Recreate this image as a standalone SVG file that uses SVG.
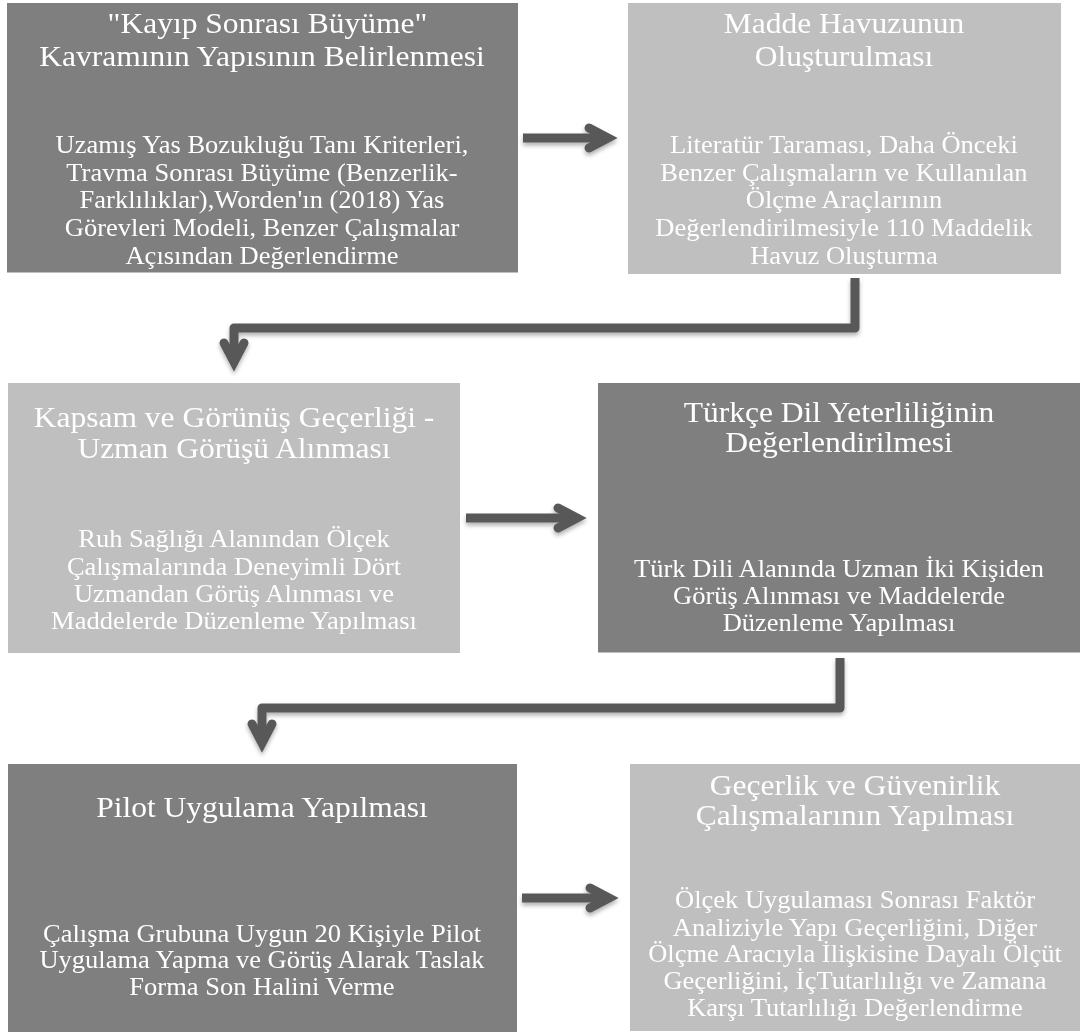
<svg xmlns="http://www.w3.org/2000/svg" width="1082" height="1032" viewBox="0 0 1082 1032">
<style>
.dark{fill:#7f7f7f}
.light{fill:#bfbfbf}
.t{font-family:"Liberation Serif","Times New Roman",serif;fill:#ffffff;text-anchor:middle}
.ti{font-size:29px}
.bd{font-size:25.5px}
.sh{fill:none;stroke:#595959;stroke-width:9;stroke-linecap:butt;stroke-linejoin:round}
.hd{fill:none;stroke:#595959;stroke-width:9;stroke-linecap:round;stroke-linejoin:miter;stroke-miterlimit:6}
</style>
<defs>
<filter id="ash" x="-20%" y="-20%" width="140%" height="160%">
<feDropShadow dx="0" dy="3" stdDeviation="2" flood-color="#000" flood-opacity="0.3"/>
</filter>
<filter id="bsh" x="-5%" y="-5%" width="110%" height="110%">
<feDropShadow dx="0" dy="1" stdDeviation="0.6" flood-color="#000" flood-opacity="0.25"/>
</filter>
</defs>
<rect width="1082" height="1032" fill="#ffffff"/>

<g id="n1" filter="url(#bsh)">
<rect class="dark" x="7" y="3" width="511" height="269"/>
<text class="t ti" transform="translate(262,0) scale(1.087,1)"><tspan x="5" y="33">"Kayıp Sonrası Büyüme"</tspan><tspan x="0" y="66">Kavramının Yapısının Belirlenmesi</tspan></text>
<text class="t bd" transform="translate(262,0) scale(1.04,1)"><tspan x="0" y="153">Uzamış Yas Bozukluğu Tanı Kriterleri,</tspan><tspan x="0" y="181">Travma Sonrası Büyüme (Benzerlik-</tspan><tspan x="0" y="208">Farklılıklar),Worden'ın (2018) Yas</tspan><tspan x="0" y="236">Görevleri Modeli, Benzer Çalışmalar</tspan><tspan x="0" y="264">Açısından Değerlendirme</tspan></text>
</g>

<g id="n2" filter="url(#bsh)">
<rect class="light" x="628" y="3" width="433" height="270"/>
<text class="t ti" transform="translate(844,0) scale(1.087,1)"><tspan x="0" y="33">Madde Havuzunun</tspan><tspan x="0" y="66">Oluşturulması</tspan></text>
<text class="t bd" transform="translate(844,0) scale(1.04,1)"><tspan x="0" y="153">Literatür Taraması, Daha Önceki</tspan><tspan x="0" y="181">Benzer Çalışmaların ve Kullanılan</tspan><tspan x="0" y="208">Ölçme Araçlarının</tspan><tspan x="0" y="236">Değerlendirilmesiyle 110 Maddelik</tspan><tspan x="0" y="264">Havuz Oluşturma</tspan></text>
</g>

<g id="n3" filter="url(#bsh)">
<rect class="light" x="8" y="383" width="452" height="269"/>
<text class="t ti" transform="translate(234,0) scale(1.087,1)"><tspan x="0" y="427">Kapsam ve Görünüş Geçerliği -</tspan><tspan x="0" y="458">Uzman Görüşü Alınması</tspan></text>
<text class="t bd" transform="translate(234,0) scale(1.04,1)"><tspan x="0" y="547">Ruh Sağlığı Alanından Ölçek</tspan><tspan x="0" y="575">Çalışmalarında Deneyimli Dört</tspan><tspan x="0" y="602">Uzmandan Görüş Alınması ve</tspan><tspan x="0" y="629">Maddelerde Düzenleme Yapılması</tspan></text>
</g>

<g id="n4" filter="url(#bsh)">
<rect class="dark" x="598" y="383" width="482" height="269"/>
<text class="t ti" transform="translate(839,0) scale(1.087,1)"><tspan x="0" y="422">Türkçe Dil Yeterliliğinin</tspan><tspan x="0" y="452">Değerlendirilmesi</tspan></text>
<text class="t bd" transform="translate(839,0) scale(1.04,1)"><tspan x="0" y="577">Türk Dili Alanında Uzman İki Kişiden</tspan><tspan x="0" y="604">Görüş Alınması ve Maddelerde</tspan><tspan x="0" y="631">Düzenleme Yapılması</tspan></text>
</g>

<g id="n5" filter="url(#bsh)">
<rect class="dark" x="8" y="764" width="509" height="268"/>
<text class="t ti" transform="translate(262,0) scale(1.087,1)"><tspan x="0" y="817">Pilot Uygulama Yapılması</tspan></text>
<text class="t bd" transform="translate(262,0) scale(1.04,1)"><tspan x="0" y="942">Çalışma Grubuna Uygun 20 Kişiyle Pilot</tspan><tspan x="0" y="968">Uygulama Yapma ve Görüş Alarak Taslak</tspan><tspan x="0" y="995">Forma Son Halini Verme</tspan></text>
</g>

<g id="n6" filter="url(#bsh)">
<rect class="light" x="630" y="764" width="450" height="266"/>
<text class="t ti" transform="translate(855,0) scale(1.087,1)"><tspan x="0" y="795">Geçerlik ve Güvenirlik</tspan><tspan x="0" y="825">Çalışmalarının Yapılması</tspan></text>
<text class="t bd" transform="translate(855,0) scale(1.04,1)"><tspan x="0" y="908">Ölçek Uygulaması Sonrası Faktör</tspan><tspan x="0" y="936">Analiziyle Yapı Geçerliğini, Diğer</tspan><tspan x="0" y="962">Ölçme Aracıyla İlişkisine Dayalı Ölçüt</tspan><tspan x="0" y="989">Geçerliğini, İçTutarlılığı ve Zamana</tspan><tspan x="0" y="1016">Karşı Tutarlılığı Değerlendirme</tspan></text>
</g>

<g id="connectors" filter="url(#ash)">
<g id="c1">
<path class="sh" d="M523,138 H604"/>
<polyline class="hd" points="589,128 608,138 589,148"/>
</g>
<g id="c2">
<path class="sh" d="M855,278 V328 H234 V358"/>
<polyline class="hd" points="224,343 234,362 244,343"/>
</g>
<g id="c3">
<path class="sh" d="M466,518 H573"/>
<polyline class="hd" points="558,508 577,518 558,528"/>
</g>
<g id="c4">
<path class="sh" d="M840,658 V708 H262 V739"/>
<polyline class="hd" points="252,724 262,743 272,724"/>
</g>
<g id="c5">
<path class="sh" d="M522,898 H605"/>
<polyline class="hd" points="590,888 609,898 590,908"/>
</g>
</g>
</svg>
